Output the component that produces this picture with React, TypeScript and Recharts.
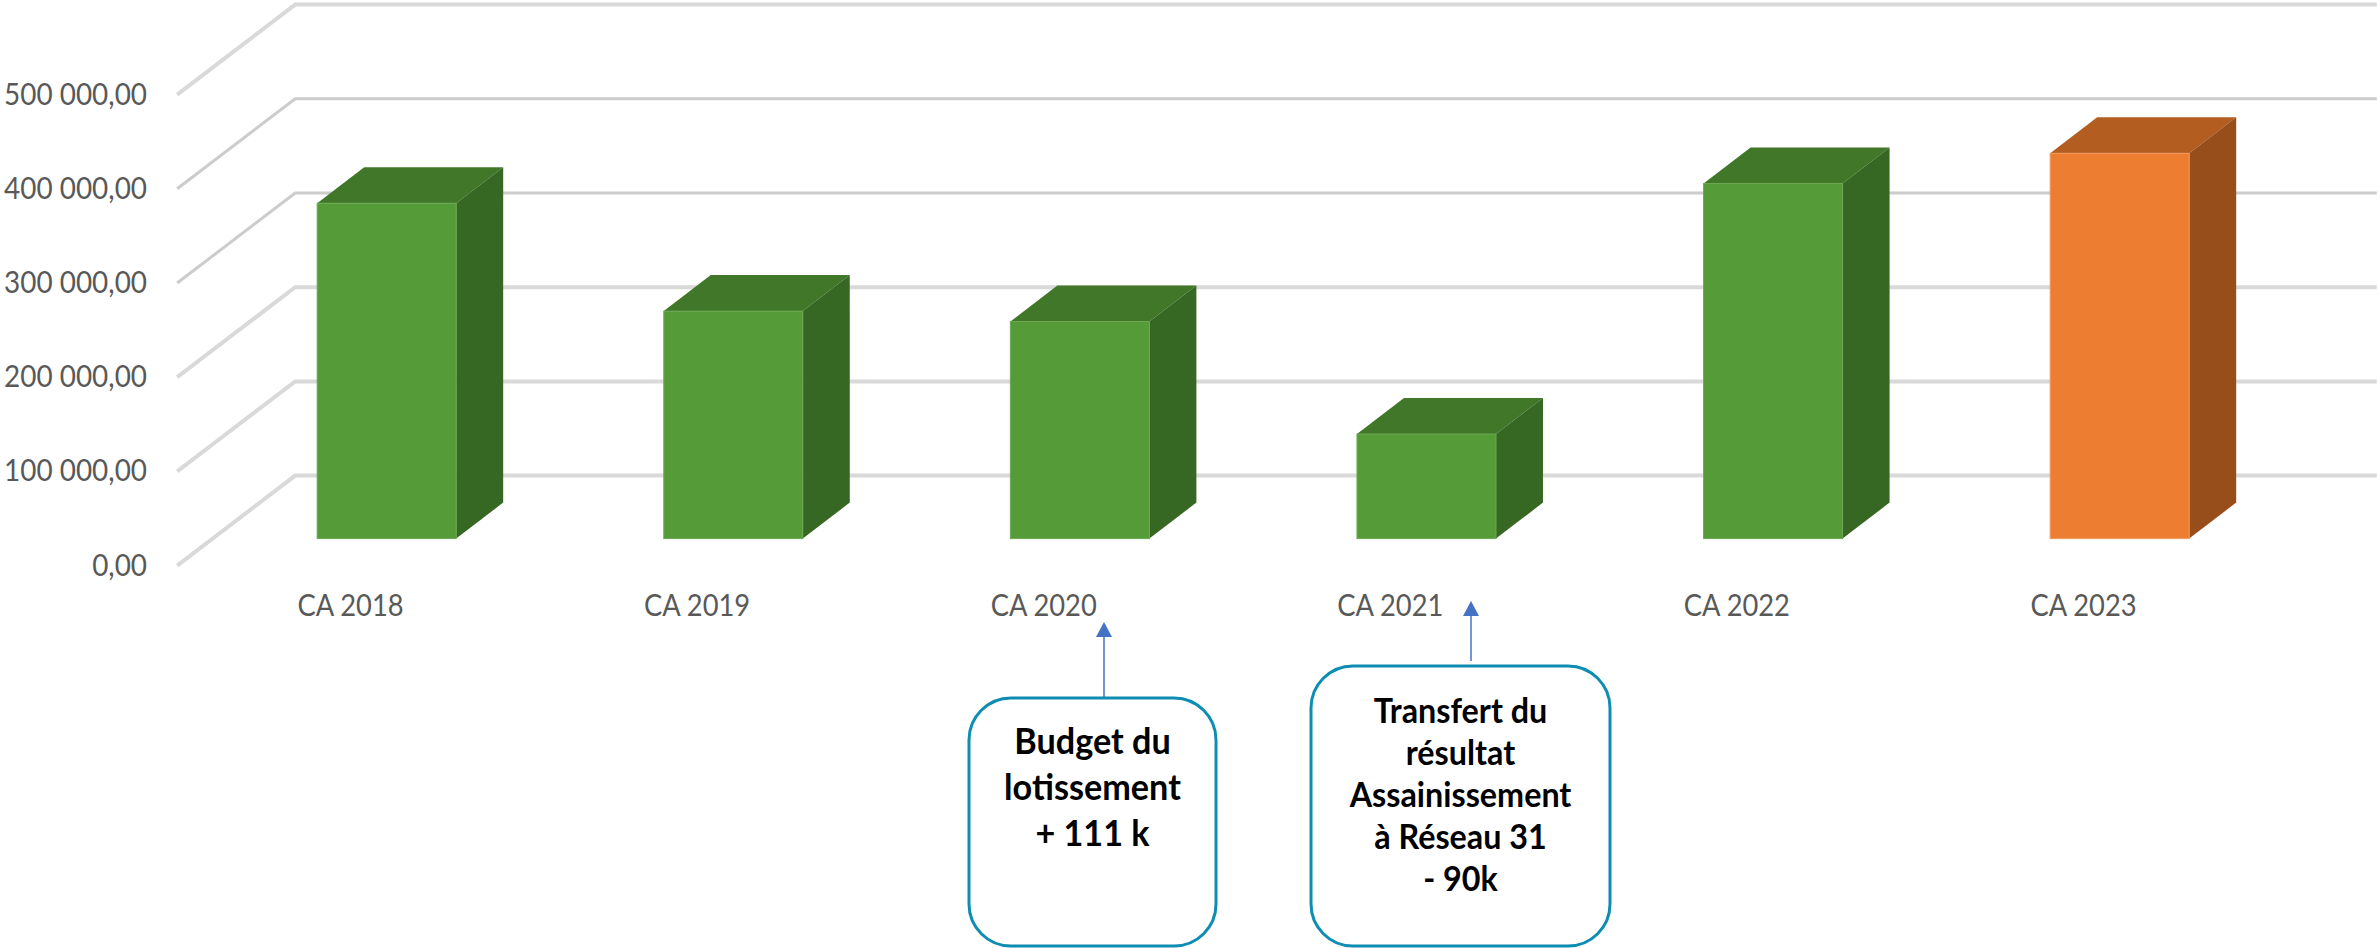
import { BarChart, Bar, XAxis, YAxis, CartesianGrid } from 'recharts';

const categories = ['CA 2018', 'CA 2019', 'CA 2020', 'CA 2021', 'CA 2022', 'CA 2023'];
const revenue = [356000, 241500, 230500, 111000, 377000, 409000];
const yTicks = [0, 100000, 200000, 300000, 400000, 500000];
const yTickLabels = ['0,00', '100 000,00', '200 000,00', '300 000,00', '400 000,00', '500 000,00'];

const greenFaces = { front: '#559C38', edge: '#6BA851', top: '#407728', side: '#366823' };
const orangeFaces = { front: '#ED7D31', edge: '#F09A5E', top: '#B35D21', side: '#984E1B' };
const barFaces = [greenFaces, greenFaces, greenFaces, greenFaces, greenFaces, orangeFaces];

const data = categories.map((name, i) => ({ name, revenue: revenue[i], faces: barFaces[i] }));

const FONT = 'Lato, sans-serif';
const TEXT_GREY = '#595959';
const DEPTH_X = 47;
const DEPTH_Y = 36;

const Bar3D = ({ x, y, width, height, payload }: any) => {
  const { front, edge, top, side } = payload.faces;
  const right = x + width;
  const bottom = y + height;
  return (
    <g>
      <polygon points={`${x},${y} ${right},${y} ${right + DEPTH_X},${y - DEPTH_Y} ${x + DEPTH_X},${y - DEPTH_Y}`} fill={top} />
      <polygon points={`${right},${y} ${right + DEPTH_X},${y - DEPTH_Y} ${right + DEPTH_X},${bottom - DEPTH_Y} ${right},${bottom}`} fill={side} />
      <rect x={x} y={y} width={width} height={height} fill={front} stroke={edge} strokeWidth={1} />
    </g>
  );
};

// floor line in front, then wall line behind the bars
const GridLine = ({ x1, x2, y1, index }: any) => {
  const thin = index === 3 || index === 4;
  return (
    <polyline
      key={index}
      points={`${x1 - 36},${y1 + 27} ${x1 + 82},${y1 - 63} ${x2 + 84},${y1 - 63}`}
      fill="none"
      stroke={thin ? '#CCCCCC' : '#D9D9D9'}
      strokeWidth={thin ? 3 : 4}
    />
  );
};

// Lato runs wider than the original face, so labels are squeezed a little
const ValueTick = ({ y, index }: any) => (
  <text
    transform={`translate(147,${y + 25}) scale(0.9,1)`}
    textAnchor="end"
    dominantBaseline="central"
    fontFamily={FONT}
    fontSize={31}
    fill={TEXT_GREY}
  >
    {yTickLabels[index]}
  </text>
);

const CategoryTick = ({ x, payload }: any) => (
  <text
    transform={`translate(${x - 36},604) scale(0.91,1)`}
    textAnchor="middle"
    dominantBaseline="central"
    fontFamily={FONT}
    fontSize={30}
    fill={TEXT_GREY}
  >
    {payload.value}
  </text>
);

const Callout = ({ x, y, width, height, lines, firstLine, lineGap, fontSize, arrowX, arrowTip, arrowEnd }: any) => (
  <g>
    <line x1={arrowX} y1={arrowTip + 14} x2={arrowX} y2={arrowEnd} stroke="#4472C4" strokeWidth={1.5} />
    <polygon points={`${arrowX},${arrowTip} ${arrowX + 8},${arrowTip + 15} ${arrowX - 8},${arrowTip + 15}`} fill="#4472C4" />
    <rect x={x} y={y} width={width} height={height} rx={42} fill="#fff" stroke="#0E8DB3" strokeWidth={3} />
    {lines.map((line: string, i: number) => (
      <text
        key={i}
        transform={`translate(${x + width / 2},${firstLine + i * lineGap}) scale(0.95,1)`}
        textAnchor="middle"
        dominantBaseline="central"
        fontFamily={FONT}
        fontWeight={700}
        fontSize={fontSize}
        fill="#000"
      >
        {line}
      </text>
    ))}
  </g>
);

export default function App() {
  return (
    <div style={{ position: 'absolute', left: 0, top: 0, width: 2379, height: 948, background: '#fff', overflow: 'hidden' }}>
      <BarChart
        width={2379}
        height={948}
        data={data}
        margin={{ top: 67.6, right: 86.2, bottom: 349.4, left: 113.2 }}
        barCategoryGap="30%"
      >
        <CartesianGrid vertical={false} horizontal={GridLine} syncWithTicks />
        <XAxis dataKey="name" axisLine={false} tickLine={false} height={60} tick={<CategoryTick />} interval={0} />
        <YAxis domain={[0, 500000]} ticks={yTicks} width={100} axisLine={false} tickLine={false} tick={<ValueTick />} />
        <Bar dataKey="revenue" isAnimationActive={false} shape={<Bar3D />} />
      </BarChart>
      <svg width={2379} height={948} style={{ position: 'absolute', left: 0, top: 0 }}>
        <Callout x={969} y={698} width={247} height={248} lines={['Budget du', 'lotissement', '+ 111 k']} firstLine={740} lineGap={46} fontSize={36} arrowX={1104} arrowTip={622} arrowEnd={698} />
        <Callout x={1311} y={666} width={299} height={280} lines={['Transfert du', 'résultat', 'Assainissement', 'à Réseau 31', '- 90k']} firstLine={710} lineGap={42} fontSize={34} arrowX={1471} arrowTip={601} arrowEnd={661} />
      </svg>
    </div>
  );
}
